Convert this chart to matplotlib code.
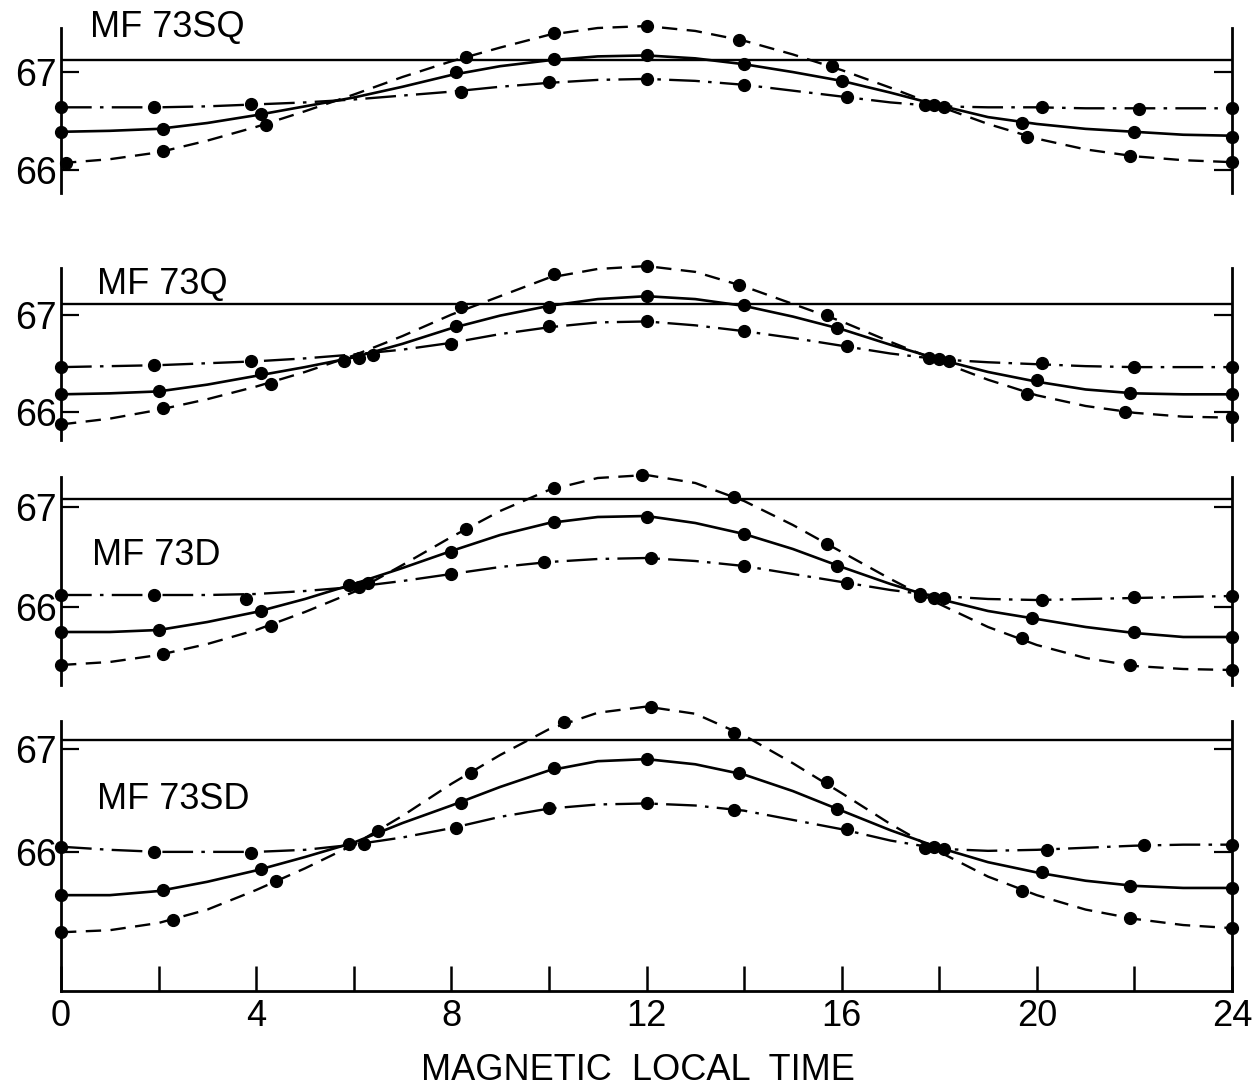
import matplotlib.pyplot as plt
from matplotlib.ticker import MultipleLocator

plt.rcParams['font.family'] = ['Liberation Sans', 'DejaVu Sans']

hours = list(range(25))

panel_names = ['MF 73SQ', 'MF 73Q', 'MF 73D', 'MF 73SD']
ref_level = [67.12, 67.11, 67.08, 67.09]

# --- MF 73SQ ---
sq_solid_curve = [66.39, 66.40, 66.42, 66.48, 66.56, 66.65, 66.74, 66.85, 66.97,
                  67.06, 67.12, 67.16, 67.17, 67.14, 67.08, 67.00, 66.91, 66.79,
                  66.66, 66.54, 66.47, 66.42, 66.39, 66.36, 66.35]
sq_dashed_curve = [66.07, 66.11, 66.18, 66.30, 66.44, 66.60, 66.77, 66.95, 67.11,
                   67.25, 67.38, 67.45, 67.47, 67.42, 67.32, 67.18, 67.02, 66.84,
                   66.65, 66.47, 66.32, 66.21, 66.14, 66.10, 66.08]
sq_dashdot_curve = [66.64, 66.64, 66.64, 66.65, 66.67, 66.69, 66.72, 66.76, 66.80,
                    66.85, 66.89, 66.92, 66.93, 66.91, 66.87, 66.81, 66.75, 66.69,
                    66.65, 66.64, 66.64, 66.63, 66.63, 66.63, 66.63]
sq_solid_t = [0, 2.1, 4.1, 8.1, 10.1, 12, 14, 16, 17.9, 19.7, 22, 24]
sq_solid_v = [66.39, 66.42, 66.57, 67.00, 67.13, 67.17, 67.08, 66.91, 66.66,
              66.48, 66.39, 66.34]
sq_dashed_t = [0.1, 2.1, 4.2, 8.3, 10.1, 12, 13.9, 15.8, 18.1, 19.8, 21.9, 24]
sq_dashed_v = [66.07, 66.19, 66.46, 67.15, 67.40, 67.47, 67.33, 67.06, 66.64,
               66.34, 66.14, 66.08]
sq_dashdot_t = [0, 1.9, 3.9, 8.2, 10.0, 12, 14, 16.1, 17.7, 20.1, 22.1, 24]
sq_dashdot_v = [66.64, 66.64, 66.67, 66.80, 66.90, 66.93, 66.87, 66.75, 66.66,
                66.64, 66.62, 66.63]

# --- MF 73Q ---
q_solid_curve = [66.18, 66.19, 66.21, 66.28, 66.37, 66.46, 66.56, 66.70, 66.86,
                 66.99, 67.09, 67.16, 67.19, 67.16, 67.09, 66.98, 66.85, 66.69,
                 66.54, 66.41, 66.31, 66.23, 66.19, 66.18, 66.18]
q_dashed_curve = [65.87, 65.93, 66.02, 66.13, 66.26, 66.41, 66.58, 66.78, 67.00,
                  67.19, 67.38, 67.47, 67.50, 67.44, 67.29, 67.11, 66.93, 66.72,
                  66.52, 66.33, 66.17, 66.06, 65.99, 65.95, 65.94]
q_dashdot_curve = [66.46, 66.47, 66.48, 66.50, 66.52, 66.55, 66.59, 66.64, 66.71,
                   66.80, 66.87, 66.92, 66.93, 66.89, 66.83, 66.76, 66.68, 66.60,
                   66.54, 66.51, 66.49, 66.47, 66.46, 66.46, 66.46]
q_solid_t = [0, 2.0, 4.1, 5.8, 8.1, 10.0, 12, 14, 15.9, 17.8, 20, 21.9, 24]
q_solid_v = [66.18, 66.21, 66.40, 66.52, 66.88, 67.08, 67.19, 67.10, 66.86,
             66.55, 66.33, 66.19, 66.18]
q_dashed_t = [0, 2.1, 4.3, 6.1, 8.2, 10.1, 12, 13.9, 15.7, 18.2, 19.8, 21.8, 24]
q_dashed_v = [65.87, 66.04, 66.29, 66.55, 67.08, 67.42, 67.50, 67.30, 67.00,
              66.52, 66.18, 66.00, 65.95]
q_dashdot_t = [0, 1.9, 3.9, 6.4, 8.0, 10.0, 12, 14, 16.1, 18.0, 20.1, 22, 24]
q_dashdot_v = [66.46, 66.48, 66.52, 66.58, 66.70, 66.88, 66.93, 66.83, 66.68,
               66.54, 66.50, 66.46, 66.46]

# --- MF 73D ---
d_solid_curve = [65.75, 65.75, 65.77, 65.85, 65.95, 66.08, 66.23, 66.39, 66.56,
                 66.72, 66.84, 66.90, 66.91, 66.84, 66.73, 66.58, 66.40, 66.23,
                 66.08, 65.96, 65.88, 65.80, 65.74, 65.70, 65.70]
d_dashed_curve = [65.42, 65.45, 65.52, 65.63, 65.77, 65.95, 66.15, 66.42, 66.70,
                  66.96, 67.17, 67.29, 67.32, 67.24, 67.06, 66.82, 66.55, 66.28,
                  66.03, 65.80, 65.62, 65.49, 65.41, 65.38, 65.37]
d_dashdot_curve = [66.12, 66.12, 66.12, 66.12, 66.13, 66.16, 66.20, 66.26, 66.33,
                   66.40, 66.45, 66.48, 66.49, 66.46, 66.41, 66.33, 66.25, 66.17,
                   66.11, 66.08, 66.07, 66.08, 66.09, 66.10, 66.11]
d_solid_t = [0, 2.0, 4.1, 5.9, 8.0, 10.1, 12, 14, 15.9, 17.9, 19.9, 22, 24]
d_solid_v = [65.75, 65.77, 65.96, 66.22, 66.55, 66.85, 66.90, 66.73, 66.41,
             66.09, 65.89, 65.75, 65.70]
d_dashed_t = [0, 2.1, 4.3, 6.3, 8.3, 10.1, 11.9, 13.8, 15.7, 17.6, 19.7, 21.9, 24]
d_dashed_v = [65.42, 65.53, 65.81, 66.24, 66.78, 67.19, 67.32, 67.10, 66.63,
              66.13, 65.69, 65.42, 65.37]
d_dashdot_t = [0, 1.9, 3.8, 6.1, 8.0, 9.9, 12.1, 14, 16.1, 17.6, 18.1, 20.1, 22.0, 24]
d_dashdot_v = [66.12, 66.12, 66.08, 66.20, 66.33, 66.45, 66.49, 66.41, 66.24,
               66.11, 66.09, 66.07, 66.10, 66.11]

# --- MF 73SD ---
sd_solid_curve = [65.58, 65.58, 65.62, 65.71, 65.82, 65.95, 66.09, 66.28, 66.45,
                  66.63, 66.79, 66.88, 66.90, 66.85, 66.75, 66.59, 66.40, 66.21,
                  66.04, 65.90, 65.80, 65.72, 65.67, 65.65, 65.65]
sd_dashed_curve = [65.22, 65.24, 65.31, 65.44, 65.63, 65.84, 66.07, 66.35, 66.66,
                   66.94, 67.19, 67.35, 67.41, 67.34, 67.13, 66.86, 66.57, 66.27,
                   66.00, 65.76, 65.58, 65.44, 65.35, 65.29, 65.26]
sd_dashdot_curve = [66.05, 66.02, 66.00, 66.00, 66.00, 66.02, 66.07, 66.14, 66.23,
                    66.34, 66.42, 66.46, 66.47, 66.45, 66.40, 66.31, 66.22, 66.11,
                    66.03, 66.01, 66.02, 66.04, 66.06, 66.07, 66.07]
sd_solid_t = [0, 2.1, 4.1, 5.9, 8.2, 10.1, 12, 13.9, 15.9, 17.9, 20.1, 21.9, 24]
sd_solid_v = [65.58, 65.63, 65.83, 66.08, 66.47, 66.81, 66.90, 66.77, 66.42,
              66.05, 65.80, 65.67, 65.65]
sd_dashed_t = [0, 2.3, 4.4, 6.5, 8.4, 10.3, 12.1, 13.8, 15.7, 17.7, 19.7, 21.9, 24]
sd_dashed_v = [65.22, 65.34, 65.72, 66.20, 66.77, 67.26, 67.41, 67.15, 66.68,
               66.04, 65.62, 65.36, 65.26]
sd_dashdot_t = [0, 1.9, 3.9, 6.2, 8.1, 10.0, 12, 13.8, 16.1, 18.1, 20.2, 22.2, 24]
sd_dashdot_v = [66.05, 66.00, 65.99, 66.08, 66.23, 66.43, 66.47, 66.41, 66.22,
                66.03, 66.02, 66.07, 66.07]

panels = [
    (sq_solid_curve, sq_dashed_curve, sq_dashdot_curve,
     sq_solid_t, sq_solid_v, sq_dashed_t, sq_dashed_v, sq_dashdot_t, sq_dashdot_v),
    (q_solid_curve, q_dashed_curve, q_dashdot_curve,
     q_solid_t, q_solid_v, q_dashed_t, q_dashed_v, q_dashdot_t, q_dashdot_v),
    (d_solid_curve, d_dashed_curve, d_dashdot_curve,
     d_solid_t, d_solid_v, d_dashed_t, d_dashed_v, d_dashdot_t, d_dashdot_v),
    (sd_solid_curve, sd_dashed_curve, sd_dashdot_curve,
     sd_solid_t, sd_solid_v, sd_dashed_t, sd_dashed_v, sd_dashdot_t, sd_dashdot_v),
]

# Achsenlage in Pixeln (oben, unten) und y-Bereiche
W, H = 1254, 1088
x_left, x_right = 61, 1232
boxes = [(28, 193), (268, 440), (477, 685), (721, 991)]
ylims = [(65.765, 67.45), (65.71, 67.48), (65.22, 67.30), (64.65, 67.27)]
label_pos = [(0.6, 67.45), (0.74, 67.31), (0.64, 66.51), (0.74, 66.51)]

fig = plt.figure(figsize=(W / 100, H / 100), dpi=100)

for i, data in enumerate(panels):
    (c_solid, c_dash, c_dashdot,
     t_solid, v_solid, t_dash, v_dash, t_dd, v_dd) = data
    top, bot = boxes[i]
    ax = fig.add_axes([x_left / W, 1 - bot / H,
                       (x_right - x_left) / W, (bot - top) / H])
    ax.set_xlim(0, 24)
    ax.set_ylim(*ylims[i])

    ax.axhline(ref_level[i], color='black', lw=1.7)

    ax.plot(hours, c_solid, color='black', lw=1.9, clip_on=False)
    ax.plot(hours, c_dash, color='black', lw=1.7, dashes=(6.5, 4),
            clip_on=False)
    ax.plot(hours, c_dashdot, color='black', lw=1.7,
            dashes=(13, 3.5, 1.5, 3.5), clip_on=False)
    for t, v in [(t_solid, v_solid), (t_dash, v_dash), (t_dd, v_dd)]:
        ax.plot(t, v, 'o', color='black', ms=8.5, clip_on=False, zorder=5)

    ax.text(label_pos[i][0], label_pos[i][1], panel_names[i], fontsize=26,
            va='center', ha='left', clip_on=False)

    ax.spines['top'].set_visible(False)
    for side in ['left', 'right', 'bottom']:
        ax.spines[side].set_linewidth(2.0)

    ax.set_yticks([66, 67])
    ax.set_yticklabels(['66', '67'])
    ax.tick_params(axis='y', which='both', direction='in', length=13,
                   width=1.6, labelsize=27, pad=3, right=True)

    if i < 3:
        ax.spines['bottom'].set_visible(False)
        ax.set_xticks([])
    else:
        ax.xaxis.set_major_locator(MultipleLocator(4))
        ax.xaxis.set_minor_locator(MultipleLocator(2))
        ax.tick_params(axis='x', which='both', direction='in', length=18,
                       width=1.8, labelsize=26, pad=6)

fig.text(0.509, 0.0165, 'MAGNETIC  LOCAL  TIME', fontsize=26,
         ha='center', va='center')

fig.savefig('out.png', dpi=100)
